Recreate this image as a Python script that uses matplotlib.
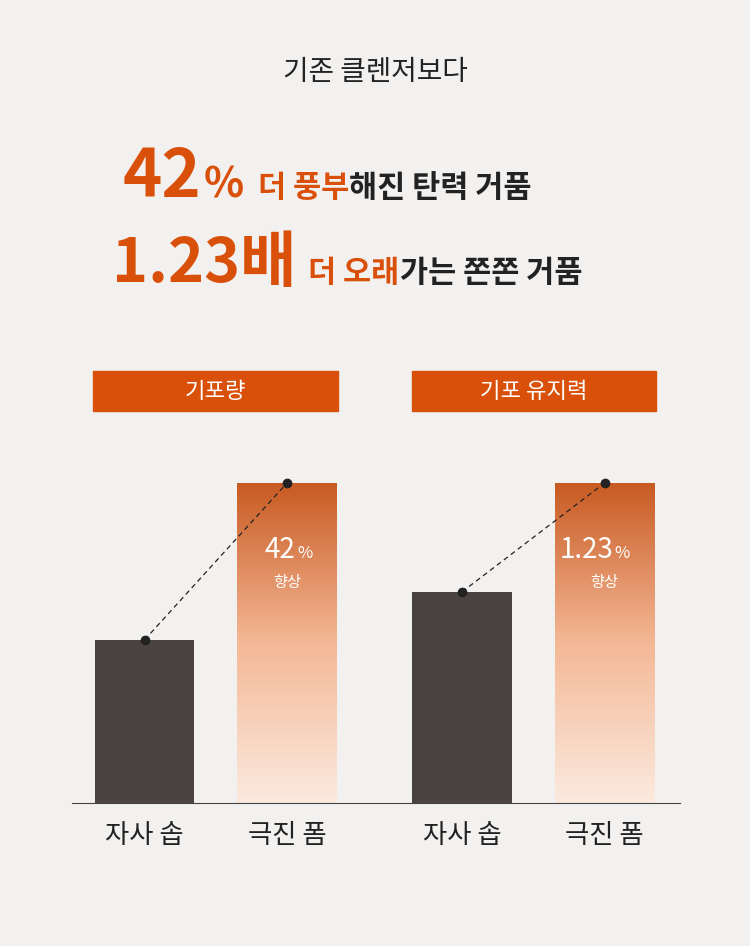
import numpy as np
import matplotlib.pyplot as plt
from matplotlib.colors import LinearSegmentedColormap

plt.rcParams['font.family'] = ['Noto Sans CJK JP', 'Noto Sans CJK KR', 'Noto Sans CJK SC']

# data
categories = ['자사 솝', '극진 폼', '자사 솝', '극진 폼']
values = [51, 100, 66, 100]
groups = ['기포량', '기포 유지력']
gains = ['42', '1.23']

W, H = 750, 946
ORANGE = '#d9500a'
DARK = '#4a4240'

fig = plt.figure(figsize=(W / 100, H / 100), dpi=100)
fig.patch.set_facecolor('#f3f1ef')
renderer = fig.canvas.get_renderer()


def fx(x):
    return x / W


def fy(y):
    return 1 - y / H


# headline
fig.text(fx(375), fy(72), '기존 클렌저보다', ha='center', va='center', fontsize=20, color='#222')


def line(x, y, parts):
    # chain text pieces left to right
    for txt, size, col, gap in parts:
        t = fig.text(fx(x), fy(y), txt, ha='left', va='baseline', fontsize=size,
                     color=col, fontweight='bold')
        x = t.get_window_extent(renderer).x1 + gap


line(123, 197, [('42', 48, ORANGE, 2), ('%', 30, ORANGE, 14), ('더 풍부', 22, ORANGE, 0),
                ('해진 탄력 거품', 22, '#222', 0)])
line(112, 282, [('1.23배', 44, ORANGE, 12), ('더 오래', 22, ORANGE, 0),
                ('가는 쫀쫀 거품', 22, '#222', 0)])

# headers
for x0, x1, g in [(93, 338, groups[0]), (412, 656, groups[1])]:
    fig.patches.append(plt.Rectangle((fx(x0), fy(411)), fx(x1 - x0), 40 / H,
                                     transform=fig.transFigure, color=ORANGE))
    fig.text(fx((x0 + x1) / 2), fy(391), g, ha='center', va='center', fontsize=16, color='white')

# bars
ax = fig.add_axes([fx(72), fy(803), fx(680 - 72), 320 / H])
ax.set_facecolor('none')
pos = [0, 1, 2.23, 3.23]
w = 0.70
ax.set_xlim(-0.51, 3.76)
ax.set_ylim(0, 100)
cmap = LinearSegmentedColormap.from_list('g', ['#fbeadf', '#f4b896', '#c85a22'])
grad = np.linspace(0, 1, 256).reshape(-1, 1)
for i, (p, v) in enumerate(zip(pos, values)):
    if i % 2 == 0:
        ax.bar(p, v, width=w, color=DARK)
    else:
        ax.imshow(grad, extent=(p - w / 2, p + w / 2, 0, v), origin='lower', cmap=cmap,
                  aspect='auto', zorder=1)
for k in range(2):
    a, b = pos[2 * k], pos[2 * k + 1]
    ax.plot([a, b], [values[2 * k], values[2 * k + 1]], ls=(0, (4, 3)), color='#222', lw=0.9,
            marker='o', ms=6, clip_on=False, zorder=3)
    ax.text(b + 0.06, 79, gains[k], ha='right', va='center', fontsize=20, color='white')
    ax.text(b + 0.07, 78, '%', ha='left', va='center', fontsize=12, color='white')
    ax.text(b, 69, '향상', ha='center', va='center', fontsize=11, color='white')
ax.set_xticks(pos)
ax.set_xticklabels(categories, fontsize=19, color='#222')
ax.tick_params(length=0, pad=14)
for s in ['top', 'right', 'left']:
    ax.spines[s].set_visible(False)
ax.spines['bottom'].set_color('#444')
ax.set_yticks([])

fig.savefig('out.png', dpi=100, facecolor=fig.get_facecolor())
